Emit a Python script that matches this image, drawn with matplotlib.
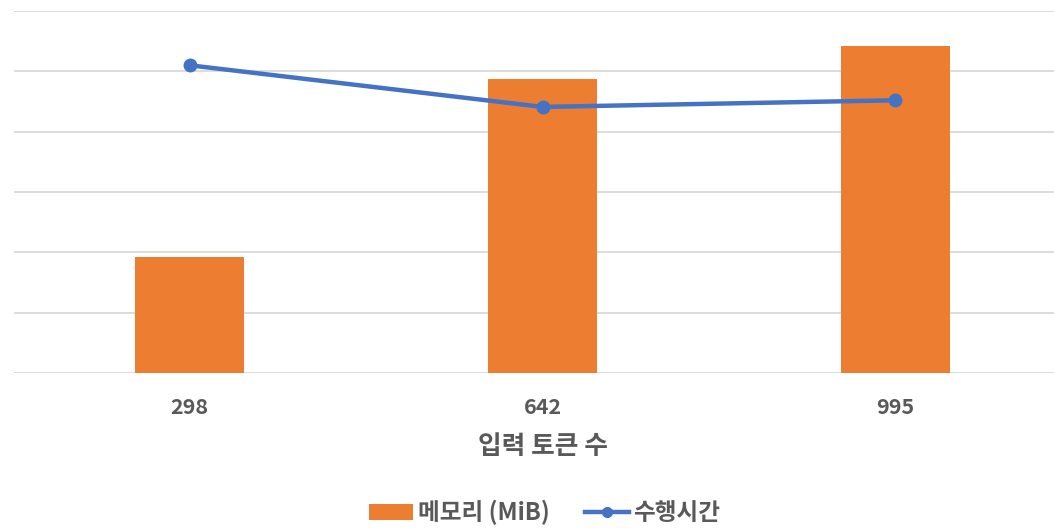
import matplotlib
matplotlib.use("Agg")
import matplotlib.pyplot as plt
from matplotlib.patches import Patch
from matplotlib.lines import Line2D

plt.rcParams['font.family'] = ['Noto Sans CJK KR', 'DejaVu Sans']

# data (axis values are hidden, so units are relative)
tokens = ["298", "642", "995"]
memory_mib = [1920, 4870, 5420]
exec_time = [5.10, 4.41, 4.52]

BAR_COLOR = "#ED7D31"
LINE_COLOR = "#4472C4"
TEXT_COLOR = "#595959"
GRID_COLOR = "#D9D9D9"

fig = plt.figure(figsize=(10.54, 5.28), dpi=100)
# axes run a little past the right edge, as in the cropped reference
ax = fig.add_axes([13.5 / 1054, 1 - 373 / 528, 1058 / 1054, 362 / 528])

x = range(len(tokens))
ax.bar(x, memory_mib, width=0.31, color=BAR_COLOR, zorder=2)
ax.set_ylim(0, 6000)
ax.set_xlim(-0.5, 2.5)
ax.set_yticks(range(0, 6001, 1000))
ax.grid(axis='y', color=GRID_COLOR, linewidth=1.3, zorder=0)
ax.set_axisbelow(True)
ax.tick_params(axis='y', left=False, right=False, labelleft=False, labelright=False, length=0)
ax.tick_params(axis='x', length=0, pad=17, labelsize=15.5, labelcolor=TEXT_COLOR)
ax.set_xticks(list(x))
ax.set_xticklabels(tokens, fontweight='bold')
for s in ax.spines.values():
    s.set_visible(False)
ax.set_xlabel("입력 토큰 수", fontsize=18.5, color=TEXT_COLOR, fontweight='bold', labelpad=11)

ax2 = ax.twinx()
ax2.plot(list(x), exec_time, color=LINE_COLOR, linewidth=3.2, marker='o', markersize=9, zorder=3)
ax2.set_ylim(0, 6)
ax2.set_yticks([])
ax2.tick_params(axis='y', left=False, right=False, labelleft=False, labelright=False, length=0)
for s in ax2.spines.values():
    s.set_visible(False)

handles = [
    Patch(facecolor=BAR_COLOR, edgecolor='none'),
    Line2D([0], [0], color=LINE_COLOR, linewidth=3.2, marker='o', markersize=7),
]
leg = fig.legend(handles, ["메모리 (MiB)", "수행시간"], loc='lower center',
                 bbox_to_anchor=(0.517, -0.035), ncol=2, frameon=False,
                 prop={'size': 17, 'weight': 'bold'}, handlelength=1.85,
                 handletextpad=0.2, columnspacing=1.5)
for t in leg.get_texts():
    t.set_color(TEXT_COLOR)

fig.savefig("out.png", dpi=100)
